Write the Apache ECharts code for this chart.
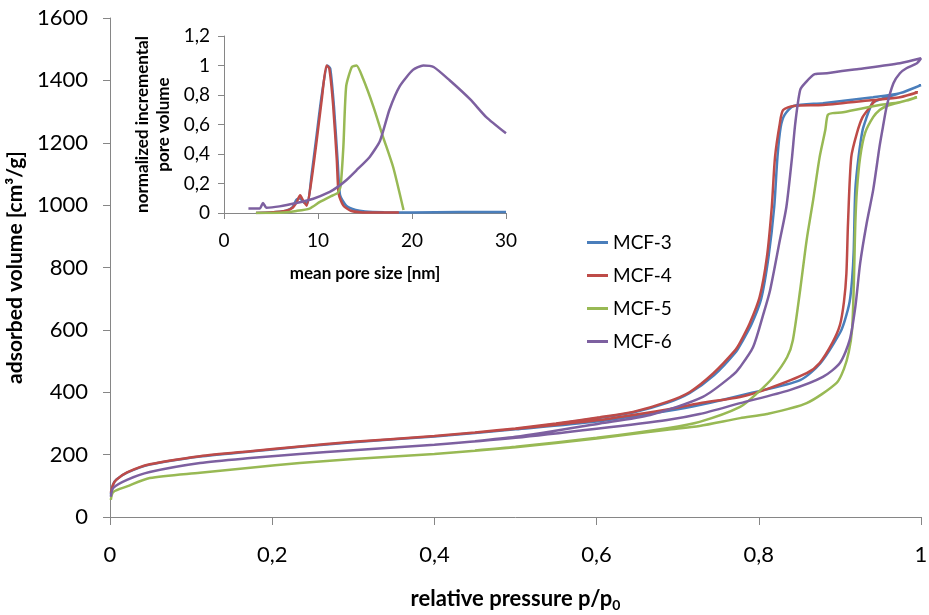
<!DOCTYPE html>
<html>
<head>
<meta charset="utf-8">
<script src="https://cdn.jsdelivr.net/npm/echarts@6/dist/echarts.min.js"></script>
<style>
html,body{margin:0;padding:0;background:#fff;}
#chart{width:929px;height:615px;}
</style>
</head>
<body>
<div id="chart"></div>
<script>
// ---- Isotherms (relative pressure p/p0 vs adsorbed volume), adsorption then desorption ----
const seriesNames = ['MCF-3', 'MCF-4', 'MCF-5', 'MCF-6'];
const seriesColors = ['#4A7EBB', '#BE4B48', '#98B954', '#7D60A0'];

const pressureMCF3 = [0.001,0.004,0.008,0.021,0.049,0.111,0.173,0.234,0.3,0.4,0.5,0.6,0.687,0.727,0.789,0.851,0.876,0.9,0.906,0.912,0.915,0.917,0.919,0.923,0.928,0.933,0.937,0.941,0.974,1.0,
  0.974,0.941,0.879,0.843,0.832,0.827,0.823,0.819,0.812,0.803,0.791,0.779,0.772,0.745,0.715,0.687,0.645,0.604,0.55,0.5,0.45];
const volumeMCF3 = [72,105,120,142,168,194,210,225,240,258,281,306,340,359,397,439,493,590,630,690,760,850,1048,1154,1241,1282,1310,1330,1359,1385,
  1359,1346,1327,1318,1290,1250,1154,994,834,700,618,560,530,455,398,366,335,318,298,282,269];

const pressureMCF4 = [0.001,0.004,0.008,0.021,0.049,0.111,0.173,0.234,0.3,0.4,0.5,0.6,0.687,0.727,0.777,0.81,0.859,0.875,0.891,0.9,0.905,0.908,0.910,0.914,0.921,0.928,0.937,0.945,0.974,0.996,
  0.974,0.941,0.879,0.843,0.830,0.826,0.820,0.816,0.810,0.801,0.789,0.777,0.771,0.744,0.715,0.687,0.645,0.604,0.55,0.5,0.45];
const volumeMCF4 = [78,105,120,143,169,195,211,226,241,260,283,310,345,365,385,410,461,494,560,615,690,780,942,1154,1231,1282,1314,1337,1346,1362,
  1346,1337,1321,1318,1305,1263,1154,994,834,705,622,560,535,461,401,369,337,320,300,284,271];

const pressureMCF5 = [0.001,0.004,0.021,0.049,0.111,0.173,0.234,0.3,0.4,0.5,0.6,0.687,0.727,0.777,0.81,0.859,0.896,0.905,0.911,0.915,0.917,0.918,0.919,0.921,0.925,0.931,0.941,0.949,0.958,0.982,0.995,
  0.974,0.949,0.904,0.891,0.885,0.882,0.875,0.867,0.859,0.851,0.842,0.835,0.818,0.798,0.777,0.727,0.687,0.6,0.5,0.45];
const volumeMCF5 = [55,80,98,125,142,158,173,186,202,224,252,280,292,317,330,365,430,475,530,600,730,834,942,1048,1154,1231,1282,1305,1318,1335,1346,
  1330,1321,1298,1295,1289,1241,1154,1016,888,728,567,513,449,397,353,305,285,254,225,213];

const pressureMCF6 = [0.001,0.004,0.021,0.049,0.111,0.173,0.234,0.3,0.4,0.5,0.6,0.687,0.727,0.777,0.838,0.879,0.9,0.912,0.919,0.925,0.933,0.941,0.949,0.953,0.958,0.966,0.974,0.982,0.995,1.0,
  0.974,0.921,0.884,0.869,0.857,0.851,0.845,0.841,0.834,0.826,0.814,0.806,0.793,0.777,0.768,0.731,0.666,0.604,0.5,0.45];
const volumeMCF6 = [65,93,119,144,173,189,202,214,232,254,283,311,330,365,407,449,494,567,673,814,942,1048,1190,1250,1320,1391,1423,1439,1455,1471,
  1455,1436,1423,1420,1391,1369,1263,1154,994,888,728,654,545,481,455,385,327,300,257,243];

// ---- Inset: pore size distribution ----
const poreSizeMCF3 = [3.4,5,6.6,7.3,7.7,8.1,8.5,8.9,9.3,9.8,10.4,11.0,11.3,11.7,12.1,12.35,13,14,15,17,20,25,30];
const poreVolMCF3 = [0,0.003,0.015,0.04,0.09,0.1,0.07,0.07,0.25,0.5,0.8,1.0,0.98,0.72,0.34,0.12,0.05,0.02,0.01,0.005,0.004,0.006,0.006];

const poreSizeMCF4 = [3.4,5,6.6,7.3,7.7,8.1,8.45,8.8,9.3,9.8,10.4,10.9,11.2,11.6,12.0,12.2,12.7,13.5,14.5,16,18.6];
const poreVolMCF4 = [0,0.003,0.015,0.035,0.07,0.12,0.08,0.05,0.22,0.46,0.77,1.0,0.98,0.74,0.36,0.13,0.05,0.015,0.005,0.003,0.003];

const poreSizeMCF5 = [3.4,5.9,7.7,9.1,10.2,11.25,12.1,12.4,12.7,13.0,13.6,14.1,14.8,15.9,16.9,18.0,19.1];
const poreVolMCF5 = [0,0.002,0.014,0.03,0.075,0.11,0.136,0.18,0.45,0.86,0.99,1.0,0.91,0.72,0.52,0.31,0.02];

const poreSizeMCF6 = [2.6,3.8,4.15,4.5,5.9,7.7,9.5,11.25,12.1,13.0,14.1,15.5,16.6,17.6,18.7,20.1,21.2,22.3,24.0,26.2,27.9,30];
const poreVolMCF6 = [0.03,0.03,0.068,0.036,0.045,0.068,0.097,0.143,0.177,0.222,0.29,0.38,0.49,0.70,0.86,0.97,1.0,0.99,0.90,0.77,0.65,0.54];

const isoX = [pressureMCF3, pressureMCF4, pressureMCF5, pressureMCF6];
const isoY = [volumeMCF3, volumeMCF4, volumeMCF5, volumeMCF6];
const psdX = [poreSizeMCF3, poreSizeMCF4, poreSizeMCF5, poreSizeMCF6];
const psdY = [poreVolMCF3, poreVolMCF4, poreVolMCF5, poreVolMCF6];

const zip = (a, b) => a.map((v, i) => [v, b[i]]);
const comma = v => String(+(+v).toFixed(1)).replace('.', ',');
const plain = v => String(Math.round(v));

const FONT = 'Lato';
const axisGray = '#868686';

const series = [];
seriesNames.forEach((name, i) => {
  series.push({
    name, type: 'line', xAxisIndex: 0, yAxisIndex: 0,
    data: zip(isoX[i], isoY[i]), symbol: 'none', smooth: 0.25,
    lineStyle: { width: 2.5, color: seriesColors[i] }, itemStyle: { color: seriesColors[i] },
    z: 2
  });
});
seriesNames.forEach((name, i) => {
  series.push({
    name, type: 'line', xAxisIndex: 1, yAxisIndex: 1,
    data: zip(psdX[i], psdY[i]), symbol: 'none', smooth: 0.2,
    lineStyle: { width: 2.5, color: seriesColors[i] }, itemStyle: { color: seriesColors[i] },
    z: 3
  });
});

const chart = echarts.init(document.getElementById('chart'), null, { renderer: 'canvas' });
chart.setOption({
  animation: false,
  backgroundColor: '#fff',
  textStyle: { fontFamily: FONT },
  grid: [
    { left: 110, right: 8, top: 18, bottom: 98, outerBoundsMode: 'none' },
    { left: 224, top: 36, width: 282, height: 177, outerBoundsMode: 'none' }
  ],
  legend: {
    orient: 'vertical', left: 582, top: 227,
    data: seriesNames,
    icon: 'rect', itemWidth: 21, itemHeight: 3, itemGap: 12,
    textStyle: { fontFamily: FONT, fontSize: 19, color: '#000', lineHeight: 21 }
  },
  xAxis: [
    {
      gridIndex: 0, type: 'value', min: 0, max: 1, interval: 0.2,
      axisLine: { show: true, lineStyle: { color: axisGray, width: 1 } },
      axisTick: { show: true, inside: false, length: 8, lineStyle: { color: axisGray } },
      splitLine: { show: false },
      axisLabel: { formatter: comma, fontSize: 22, color: '#000', margin: 27, fontFamily: FONT },
      name: '{a|relative pressure p/p}{s|0}',
      nameLocation: 'middle', nameGap: 69,
      nameTextStyle: {
        rich: {
          a: { fontSize: 22, fontWeight: 'bold', fontFamily: FONT, color: '#000' },
          s: { fontSize: 14, fontWeight: 'bold', fontFamily: FONT, color: '#000', verticalAlign: 'bottom', padding: [12, 0, 0, 0] }
        }
      }
    },
    {
      gridIndex: 1, type: 'value', min: 0, max: 30, interval: 10,
      axisLine: { show: true, lineStyle: { color: axisGray, width: 1 } },
      axisTick: { show: true, inside: false, length: 6, lineStyle: { color: axisGray } },
      splitLine: { show: false },
      axisLabel: { fontSize: 19, color: '#000', margin: 18, fontFamily: FONT },
      name: 'mean pore size [nm]', nameLocation: 'middle', nameGap: 52,
      nameTextStyle: { fontSize: 17, fontWeight: 'bold', color: '#000', fontFamily: FONT }
    }
  ],
  yAxis: [
    {
      gridIndex: 0, type: 'value', min: 0, max: 1600, interval: 200,
      axisLine: { show: true, lineStyle: { color: axisGray, width: 1 } },
      axisTick: { show: true, inside: false, length: 7, lineStyle: { color: axisGray } },
      splitLine: { show: false },
      axisLabel: { formatter: plain, fontSize: 22, color: '#000', margin: 22, fontFamily: FONT },
      name: 'adsorbed volume [cm³/g]', nameLocation: 'middle', nameRotate: 90, nameGap: 82,
      nameTextStyle: { fontSize: 21, fontWeight: 'bold', color: '#000', fontFamily: FONT }
    },
    {
      gridIndex: 1, type: 'value', min: 0, max: 1.2, interval: 0.2,
      axisLine: { show: true, lineStyle: { color: axisGray, width: 1 } },
      axisTick: { show: true, inside: false, length: 6, lineStyle: { color: axisGray } },
      splitLine: { show: false },
      axisLabel: { formatter: comma, fontSize: 19, color: '#000', margin: 14, fontFamily: FONT },
      name: 'normalized incremental\npore volume', nameLocation: 'middle', nameRotate: 90, nameGap: 50,
      nameTextStyle: { fontSize: 17, fontWeight: 'bold', color: '#000', fontFamily: FONT, lineHeight: 21 }
    }
  ],
  series
});
</script>
</body>
</html>
